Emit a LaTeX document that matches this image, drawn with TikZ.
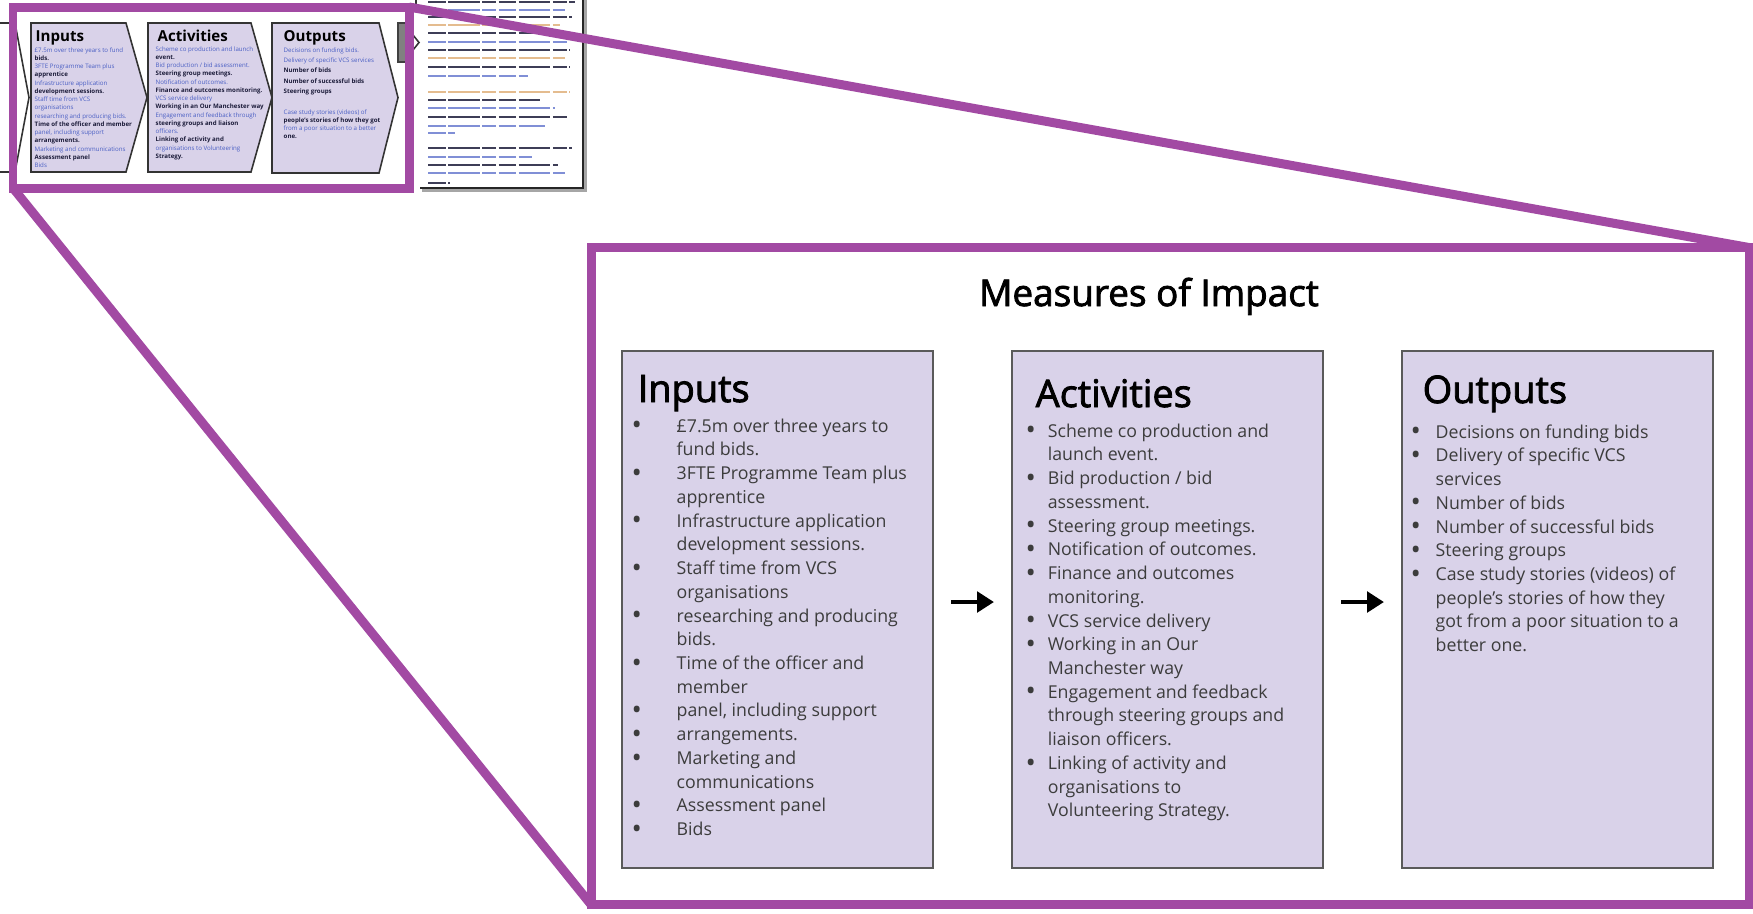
\documentclass[tikz,border=0pt]{standalone}
\usepackage{fontspec}
\setmainfont{Open Sans}
\newfontfamily\headfam{Open Sans}[FakeBold=2.2]
\usetikzlibrary{arrows.meta,calc}
\definecolor{lav}{HTML}{D9D2E9}
\definecolor{boxline}{HTML}{5A5A5A}
\definecolor{lens}{HTML}{A24AA3}
\definecolor{bodyink}{HTML}{3C3C3C}
\definecolor{inkblue}{HTML}{4A5FC4}
\definecolor{inkorange}{HTML}{D8A060}
\definecolor{inkdark}{HTML}{1C1C3A}
\newcommand{\bodyfont}{\fontsize{5.05pt}{6.757pt}\selectfont}
\newcommand{\headfont}{\headfam\fontsize{10.8pt}{13pt}\selectfont}
\newcommand{\titlefont}{\headfam\fontsize{10.5pt}{13pt}\selectfont}
\newcommand{\tinyfont}{\fontsize{1.75pt}{2.35pt}\selectfont}
\newcommand{\thumbhead}{\fontsize{4.3pt}{5pt}\selectfont\bfseries}
\newcommand{\bl}{\color{inkblue}}
\newcommand{\dk}{\color{inkdark}\bfseries}
% a slightly larger list bullet
\newcommand{\bdot}{\raisebox{-0.75pt}{\scalebox{1.55}{\textbullet}}}
\begin{document}
\begin{tikzpicture}[x=0.1mm,y=-0.1mm,
  panel/.style={draw=boxline,line width=0.6pt,fill=lav,minimum width=31.1mm,minimum height=51.7mm,inner sep=0pt},
  heading/.style={anchor=base west,inner sep=0pt,font=\headfont,text=black},
  itemlist/.style={anchor=base west,inner sep=0pt,font=\bodyfont,text=bodyink},
  flow/.style={line width=1.15pt,-{Triangle[length=4.8pt,width=5.8pt]}},
  chev/.style={draw=black!80,line width=0.45pt,fill=lav},
  thumbtitle/.style={anchor=base west,inner sep=0pt,font=\thumbhead,text=black},
  thumbtext/.style={anchor=base west,inner sep=0pt,font=\tinyfont},
  lensline/.style={draw=lens,line width=2.56pt},
  greek/.style={line width=0.45pt,dash pattern=on 5pt off 0.7pt on 9pt off 0.7pt on 4pt off 0.7pt}
]
\useasboundingbox (0,0) rectangle (1753,913);

% ---------- miniature of the source slide ----------
% tail of the preceding shape
\draw[black!80,line width=0.45pt] (0,23) -- (13,23);
\draw[black!80,line width=0.45pt] (15,23) -- (29,97.5) -- (15,172);
\draw[black!80,line width=0.45pt] (0,172) -- (13,172);

% three arrow-shaped panels
\draw[chev] (31,23) -- (126,23) -- (147,97.5) -- (126,172) -- (31,172) -- cycle;
\draw[chev] (148,23) -- (251,23) -- (272,97.5) -- (251,172) -- (148,172) -- cycle;
\draw[chev] (272,23) -- (379,23) -- (398,97.5) -- (379,173) -- (272,173) -- cycle;

\node[thumbtitle] (tin) at (35,41) {Inputs};
\node[thumbtitle] (tact) at (157,41) {Activities};
\node[thumbtitle] (tout) at (283,41) {Outputs};

\node[thumbtext] (tinlist) at (34,52) {\begin{tabular}[t]{@{}l@{}}
\bl £7.5m over three years to fund\\
\dk bids.\\
\bl 3FTE Programme Team plus\\
\dk apprentice\\
\bl Infrastructure application\\
\dk development sessions.\\
\bl Staff time from VCS\\
\bl organisations\\
\bl researching and producing bids.\\
\dk Time of the officer and member\\
\bl panel, including support\\
\dk arrangements.\\
\bl Marketing and communications\\
\dk Assessment panel\\
\bl Bids
\end{tabular}};

\node[thumbtext] (tactlist) at (155,51) {\begin{tabular}[t]{@{}l@{}}
\bl Scheme co production and launch\\
\dk event.\\
\bl Bid production / bid assessment.\\
\dk Steering group meetings.\\
\bl Notification of outcomes.\\
\dk Finance and outcomes monitoring.\\
\bl VCS service delivery\\
\dk Working in an Our Manchester way\\
\bl Engagement and feedback through\\
\dk steering groups and liaison\\
\bl officers.\\
\dk Linking of activity and\\
\bl organisations to Volunteering\\
\dk Strategy.
\end{tabular}};

\node[thumbtext] (toutlist) at (283,52) {\begin{tabular}[t]{@{}l@{}}
\bl Decisions on funding bids.\\[0.6pt]
\bl Delivery of specific VCS services\\[0.6pt]
\dk Number of bids\\[0.6pt]
\dk Number of successful bids\\[0.6pt]
\dk Steering groups\\[0.6pt]
\\[0.6pt]
\bl Case study stories (videos) of\\
\dk people’s stories of how they got\\
\bl from a poor situation to a better\\
\dk one.
\end{tabular}};

% grey tab and the tip of a shape behind it
\draw[fill=black!50,draw=black!75,line width=0.4pt] (398,23) rectangle (410,62);
\draw[black!80,line width=0.45pt] (413,35) -- (419,42.5) -- (413,50);

% neighbouring page with its tiny text
\draw[black!80,line width=0.45pt] (416,0) -- (416,12);
\draw[black!35,line width=0.8pt] (422,190.5) -- (585.5,190.5) -- (585.5,0);
\draw[black!85,line width=0.45pt] (420,188) -- (583,188) -- (583,0);
\foreach \yy/\xe/\cc/\op in {2/575/inkdark/0.85,10/565/inkblue/0.7,17/572/inkdark/0.85,25/560/inkorange/0.7,
  33/543/inkdark/0.85,42/567/inkblue/0.7,50/570/inkdark/0.85,58/565/inkorange/0.7,67/570/inkdark/0.85,76/528/inkblue/0.7,
  92/570/inkorange/0.7,100/540/inkdark/0.85,108/555/inkblue/0.7,117/568/inkdark/0.85,126/545/inkblue/0.7,133/455/inkblue/0.7,
  148/572/inkdark/0.85,157/532/inkblue/0.7,165/558/inkdark/0.85,173/565/inkblue/0.7,183/450/inkdark/0.85}
  \draw[greek,\cc,opacity=\op] (428,\yy) -- (\xe,\yy);

% ---------- enlarged view ----------
\coordinate (smallNE) at (409,7);
\coordinate (smallSW) at (13,188);
\coordinate (bigNE) at (1749,247.5);
\coordinate (bigSW) at (591,904.5);

\fill[white] (bigSW) rectangle (bigNE);

\node[anchor=base,inner sep=0pt,font=\titlefont] (title) at (1149,306) {Measures of Impact};

\node[panel] (inputs) at (777.5,609.5) {};
\node[panel] (activities) at (1167.5,609.5) {};
\node[panel] (outputs) at (1557.5,609.5) {};

\node[heading] (inputs-head) at (637,402) {Inputs};
\node[heading] (activities-head) at (1035,407) {Activities};
\node[heading] (outputs-head) at (1422,403) {Outputs};

\node[itemlist] (inputs-list) at (631,432) {\begin{tabular}[t]{@{}p{12.8pt}@{}l@{}}
\bdot & £7.5m over three years to\\
 & fund bids.\\
\bdot & 3FTE Programme Team plus\\
 & apprentice\\
\bdot & Infrastructure application\\
 & development sessions.\\
\bdot & Staff time from VCS\\
 & organisations\\
\bdot & researching and producing\\
 & bids.\\
\bdot & Time of the officer and\\
 & member\\
\bdot & panel, including support\\
\bdot & arrangements.\\
\bdot & Marketing and\\
 & communications\\
\bdot & Assessment panel\\
\bdot & Bids
\end{tabular}};

\node[itemlist] (activities-list) at (1025,437) {\begin{tabular}[t]{@{}p{6.3pt}@{}l@{}}
\bdot & Scheme co production and\\
 & launch event.\\
\bdot & Bid production / bid\\
 & assessment.\\
\bdot & Steering group meetings.\\
\bdot & Notification of outcomes.\\
\bdot & Finance and outcomes\\
 & monitoring.\\
\bdot & VCS service delivery\\
\bdot & Working in an Our\\
 & Manchester way\\
\bdot & Engagement and feedback\\
 & through steering groups and\\
 & liaison officers.\\
\bdot & Linking of activity and\\
 & organisations to\\
 & Volunteering Strategy.
\end{tabular}};

\node[itemlist] (outputs-list) at (1410,438) {\begin{tabular}[t]{@{}p{7.1pt}@{}l@{}}
\bdot & Decisions on funding bids\\
\bdot & Delivery of specific VCS\\
 & services\\
\bdot & Number of bids\\
\bdot & Number of successful bids\\
\bdot & Steering groups\\
\bdot & Case study stories (videos) of\\
 & people’s stories of how they\\
 & got from a poor situation to a\\
 & better one.
\end{tabular}};

\draw[flow] ($(inputs.east)+(17,-7.5)$) -- ($(activities.west)+(-17,-7.5)$);
\draw[flow] ($(activities.east)+(17,-7.5)$) -- ($(outputs.west)+(-17,-7.5)$);

% ---------- magnifier outline ----------
\draw[lensline] (smallSW) rectangle (smallNE);
\draw[lensline] (bigSW) rectangle (bigNE);
\draw[lensline] (smallNE) -- (bigNE);
\draw[lensline] (smallSW) -- (bigSW);
\end{tikzpicture}
\end{document}
